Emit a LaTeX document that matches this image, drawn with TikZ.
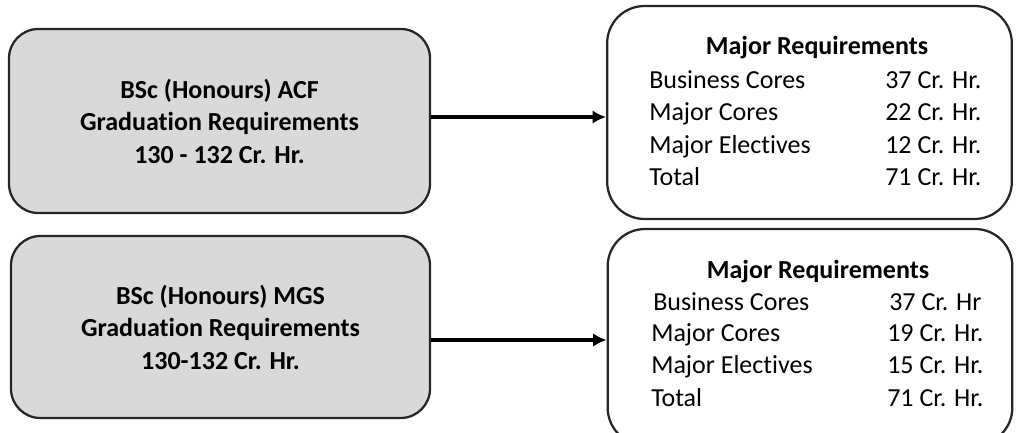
\documentclass[tikz,border=0pt]{standalone}
\usepackage{fontspec}
\setmainfont{Carlito}[Ligatures=CommonOff]
\usetikzlibrary{arrows.meta}
\begin{document}
\begin{tikzpicture}[x=0.75pt,y=-0.75pt,
  degreebox/.style={draw=black!85,line width=1.7pt,fill=gray!30,rounded corners=22pt,align=center,font=\bfseries\fontsize{19.5}{24.4}\selectfont},
  majorbox/.style={draw=black!85,line width=1.7pt,rounded corners=28pt,minimum width=303.5pt},
  rowtext/.style={anchor=base west,inner sep=0pt,font=\fontsize{19.5}{24.4}\selectfont},
  headtext/.style={anchor=base,inner sep=0pt,font=\bfseries\fontsize{19.5}{24.4}\selectfont},
  link/.style={line width=2.3pt,-{Latex[length=10pt,width=10pt]}}]
  \useasboundingbox (0,0) rectangle (1016,432);

  \node [degreebox,minimum width=315.75pt,minimum height=138pt] (acf) at (219.5,121)
    {BSc (Honours) ACF\\Graduation Requirements\\130 - 132 Cr. Hr.};
  \node [degreebox,minimum width=314.25pt,minimum height=136.5pt] (mgs) at (220.5,327)
    {BSc (Honours) MGS\\Graduation Requirements\\130-132 Cr. Hr.};

  \node [majorbox,minimum height=159.75pt] (majacf) at (809.5,112.5) {};
  \node [majorbox,minimum height=162pt] (majmgs) at (810,337) {};

  \node [headtext] (headacf) at (817,54) {Major Requirements};
  \foreach \y/\course/\hours in {88/Business Cores/37 Cr. Hr.,120/Major Cores/22 Cr. Hr.,
                                 153/Major Electives/12 Cr. Hr.,185/Total/71 Cr. Hr.}
  {
    \node [rowtext] (acfc\y) at (649,\y) {\course};
    \node [rowtext] (acfh\y) at (885,\y) {\hours};
  }

  \node [headtext] (headmgs) at (818,278) {Major Requirements};
  \node [rowtext] (mgsc310) at (653,310) {Business Cores};
  \node [rowtext] (mgsh310) at (889,310) {37 Cr. Hr};
  \foreach \y/\course/\hours in {341/Major Cores/19 Cr. Hr.,373/Major Electives/15 Cr. Hr.,
                                 406/Total/71 Cr. Hr.}
  {
    \node [rowtext] (mgsc\y) at (651,\y) {\course};
    \node [rowtext] (mgsh\y) at (887,\y) {\hours};
  }

  \draw [link] ([yshift=3pt]acf.east) -- ([yshift=3pt]acf.east -| majacf.west);
  \draw [link] ([yshift=-9.75pt]mgs.east) -- ([yshift=-9.75pt]mgs.east -| majmgs.west);

\end{tikzpicture}
\end{document}
